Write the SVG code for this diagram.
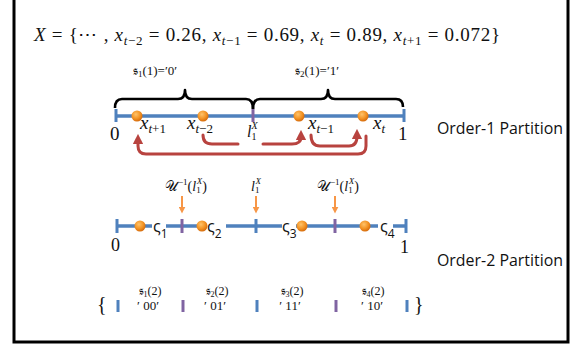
<svg xmlns="http://www.w3.org/2000/svg" width="588" height="348" viewBox="0 0 588 348">
  <style>
    .m { font-family: "Liberation Serif", "DejaVu Serif", serif; fill: #111; }
    .i { font-style: italic; }
    .cal { font-family: "Open Sans", "Noto Sans", sans-serif; fill: #111; }
    .axis { stroke: #4f81bd; stroke-width: 3.5; fill: none; }
    .tickB { stroke: #4f81bd; stroke-width: 3; }
    .tickP { stroke: #8064a2; stroke-width: 3; }
    .brace { stroke: #000; stroke-width: 2.6; fill: none; stroke-linejoin: round; }
    .red { stroke: #b8433f; stroke-width: 3; fill: none; stroke-linecap: round; }
    .org { stroke: #f79646; stroke-width: 2; fill: none; }
    .dot { fill: url(#ball); }
  </style>
  <defs>
    <radialGradient id="ball" cx="40%" cy="35%" r="65%">
      <stop offset="0" stop-color="#ffc36a"/>
      <stop offset="0.6" stop-color="#f39425"/>
      <stop offset="1" stop-color="#d66c0c"/>
    </radialGradient>
    <marker id="redHead" viewBox="0 0 10 10" refX="3" refY="5" markerWidth="3.4" markerHeight="3.4" orient="auto" markerUnits="strokeWidth">
      <path d="M0,0 L10,5 L0,10 Z" fill="#b8433f"/>
    </marker>
    <marker id="orgHead" viewBox="0 0 10 10" refX="2" refY="5" markerWidth="3.5" markerHeight="3.5" orient="auto" markerUnits="strokeWidth">
      <path d="M0,0 L10,5 L0,10 Z" fill="#f79646"/>
    </marker>
  </defs>

  <rect width="588" height="348" fill="#fff"/>
  <!-- outer frame -->
  <rect x="14" y="-6" width="554" height="348" fill="none" stroke="#000" stroke-width="3"/>

  <!-- sequence definition -->
  <g id="title">
    <text class="m" x="34" y="41" font-size="19" textLength="466" lengthAdjust="spacing"><tspan class="i">X</tspan> = {⋯ , <tspan class="i">x</tspan><tspan font-size="13" dy="4"><tspan class="i">t</tspan>−2</tspan><tspan dy="-4"> = 0.26, </tspan><tspan class="i">x</tspan><tspan font-size="13" dy="4"><tspan class="i">t</tspan>−1</tspan><tspan dy="-4"> = 0.69, </tspan><tspan class="i">x</tspan><tspan font-size="13" dy="4" class="i">t</tspan><tspan dy="-4"> = 0.89, </tspan><tspan class="i">x</tspan><tspan font-size="13" dy="4"><tspan class="i">t</tspan>+1</tspan><tspan dy="-4"> = 0.072}</tspan></text>
  </g>

  <!-- order-1 partition -->
  <g id="order1-braces">
    <path class="brace" d="M115,108 Q115,99 122,99 L178,99 Q185,99 185,90 Q185,99 192,99 L246,99 Q253,99 253,109"/>
    <path class="brace" d="M253,109 Q253,99 260,99 L321,99 Q328,99 328,90 Q328,99 335,99 L396,99 Q403,99 403,107"/>
    <text class="m" x="155" y="75" font-size="13" text-anchor="middle">𝔰<tspan font-size="9" dy="2">1</tspan><tspan dy="-2">(1)=′0′</tspan></text>
    <text class="m" x="317" y="75" font-size="13" text-anchor="middle">𝔰<tspan font-size="9" dy="2">2</tspan><tspan dy="-2">(1)=′1′</tspan></text>
  </g>

  <g id="order1-axis">
    <line class="axis" x1="115" y1="116" x2="405" y2="116"/>
    <line class="tickB" x1="116" y1="109" x2="116" y2="122"/>
    <line class="tickB" x1="404" y1="109" x2="404" y2="122"/>
    <line class="tickP" x1="253" y1="109" x2="253" y2="122"/>
    <circle class="dot" cx="137" cy="116" r="5.5"/>
    <circle class="dot" cx="203" cy="116" r="5.5"/>
    <circle class="dot" cx="299" cy="116" r="5.5"/>
    <circle class="dot" cx="363" cy="116" r="5.5"/>
  </g>

  <g id="order1-labels">
    <text class="m" x="110" y="140" font-size="19">0</text>
    <text class="m" x="398" y="140" font-size="19">1</text>
    <text class="m" x="140" y="129" font-size="19"><tspan class="i">x</tspan><tspan font-size="13" dy="4"><tspan class="i">t</tspan>+1</tspan></text>
    <text class="m" x="187" y="129" font-size="19"><tspan class="i">x</tspan><tspan font-size="13" dy="4"><tspan class="i">t</tspan>−2</tspan></text>
    <text class="m" x="308" y="129" font-size="19"><tspan class="i">x</tspan><tspan font-size="13" dy="4"><tspan class="i">t</tspan>−1</tspan></text>
    <text class="m" x="373" y="129" font-size="19"><tspan class="i">x</tspan><tspan font-size="13" dy="4" class="i">t</tspan></text>
    <text class="m" x="247" y="137" font-size="16"><tspan class="i">l</tspan><tspan font-size="10" dy="3">1</tspan><tspan font-size="10" class="i" dx="-5" dy="-11">X</tspan></text>
    <text class="cal" x="437" y="134" font-size="17" textLength="126" lengthAdjust="spacingAndGlyphs">Order-1 Partition</text>
  </g>

  <!-- order-2 partition -->
  <g id="order2-axis">
    <line class="axis" x1="116" y1="226" x2="152" y2="226"/>
    <line class="axis" x1="166" y1="226" x2="205" y2="226"/>
    <line class="axis" x1="226" y1="226" x2="282" y2="226"/>
    <line class="axis" x1="296" y1="226" x2="378" y2="226"/>
    <line class="axis" x1="393" y1="226" x2="407" y2="226"/>
    <line class="tickB" x1="117" y1="219" x2="117" y2="233"/>
    <line class="tickB" x1="406" y1="219" x2="406" y2="233"/>
    <line class="tickP" x1="182" y1="219" x2="182" y2="233"/>
    <line class="tickB" x1="256" y1="219" x2="256" y2="233"/>
    <line class="tickP" x1="335" y1="219" x2="335" y2="233"/>
    <circle class="dot" cx="140" cy="226" r="5.5"/>
    <circle class="dot" cx="202" cy="226" r="5.5"/>
    <circle class="dot" cx="302" cy="226" r="5.5"/>
    <circle class="dot" cx="365" cy="226" r="5.5"/>
  </g>

  <g id="order2-labels">
    <text class="cal" x="153" y="232" font-size="16">ς<tspan font-size="12" dy="6">1</tspan></text>
    <text class="cal" x="207" y="232" font-size="16">ς<tspan font-size="12" dy="6">2</tspan></text>
    <text class="cal" x="282" y="232" font-size="16">ς<tspan font-size="12" dy="6">3</tspan></text>
    <text class="cal" x="380" y="232" font-size="16">ς<tspan font-size="12" dy="6">4</tspan></text>
    <text class="m" x="111" y="251" font-size="18">0</text>
    <text class="m" x="400" y="253" font-size="18">1</text>
    <text class="m" x="165" y="191" font-size="14">𝒰<tspan font-size="9" dy="-6">−1</tspan><tspan dy="6">(</tspan><tspan class="i">l</tspan><tspan font-size="9" dy="2">1</tspan><tspan font-size="9" class="i" dx="-4" dy="-9">X</tspan><tspan dy="7">)</tspan></text>
    <text class="m" x="317" y="191" font-size="14">𝒰<tspan font-size="9" dy="-6">−1</tspan><tspan dy="6">(</tspan><tspan class="i">l</tspan><tspan font-size="9" dy="2">1</tspan><tspan font-size="9" class="i" dx="-4" dy="-9">X</tspan><tspan dy="7">)</tspan></text>
    <text class="m" x="251" y="191" font-size="14"><tspan class="i">l</tspan><tspan font-size="9" dy="2">1</tspan><tspan font-size="9" class="i" dx="-4" dy="-9">X</tspan></text>
    <text class="cal" x="437" y="266" font-size="17" textLength="126" lengthAdjust="spacingAndGlyphs">Order-2 Partition</text>
  </g>

  <!-- order-2 symbols -->
  <g id="order2-symbols">
    <text class="m" x="97" y="311" font-size="20">{</text>
    <text class="m" x="414" y="311" font-size="20">}</text>
    <line class="tickB" x1="118" y1="300" x2="118" y2="312"/>
    <line class="tickP" x1="183" y1="300" x2="183" y2="312"/>
    <line class="tickB" x1="257" y1="300" x2="257" y2="312"/>
    <line class="tickP" x1="336" y1="300" x2="336" y2="312"/>
    <line class="tickB" x1="407" y1="300" x2="407" y2="312"/>
    <g text-anchor="middle">
      <text class="m" x="150" y="295" font-size="12">𝔰<tspan font-size="8" dy="2">1</tspan><tspan dy="-2">(2)</tspan></text>
      <text class="m" x="217" y="295" font-size="12">𝔰<tspan font-size="8" dy="2">2</tspan><tspan dy="-2">(2)</tspan></text>
      <text class="m" x="292" y="295" font-size="12">𝔰<tspan font-size="8" dy="2">3</tspan><tspan dy="-2">(2)</tspan></text>
      <text class="m" x="373" y="295" font-size="12">𝔰<tspan font-size="8" dy="2">4</tspan><tspan dy="-2">(2)</tspan></text>
      <text class="m" x="148" y="310" font-size="13">′ 00′</text>
      <text class="m" x="215" y="310" font-size="13">′ 01′</text>
      <text class="m" x="290" y="310" font-size="13">′ 11′</text>
      <text class="m" x="372" y="310" font-size="13">′ 10′</text>
    </g>
  </g>

  <!-- connectors -->
  <g id="connectors">
    <path class="red" d="M203,135 Q203,144 212,144 L238,144"/>
    <path class="red" d="M263,144 L292,144 Q301,144 301,137" marker-end="url(#redHead)"/>
    <path class="red" d="M311,135 Q311,146 320,146 L349,146 Q357,146 357,136" marker-end="url(#redHead)"/>
    <path class="red" d="M366,136 L366,146 Q366,154 358,154 L146,154 Q138,154 138,146 L138,141" marker-end="url(#redHead)"/>
    <line class="org" x1="182" y1="196" x2="182" y2="208" marker-end="url(#orgHead)"/>
    <line class="org" x1="256" y1="196" x2="256" y2="208" marker-end="url(#orgHead)"/>
    <line class="org" x1="335" y1="196" x2="335" y2="208" marker-end="url(#orgHead)"/>
  </g>
</svg>
